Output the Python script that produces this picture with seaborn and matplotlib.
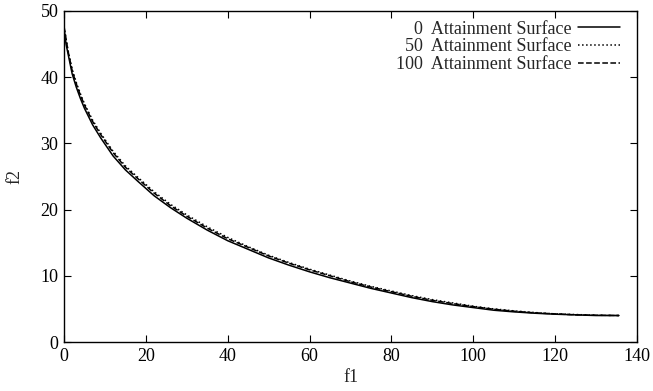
import matplotlib
matplotlib.use('Agg')
import matplotlib.pyplot as plt
import numpy as np
import pandas as pd
import seaborn as sns

# attainment surfaces
f1_0 = [0, 0.5, 1, 2, 3, 4, 5, 7, 9, 12, 15, 18, 22, 26, 30, 35, 40, 45, 50,
        55, 60, 65, 70, 75, 80, 85, 90, 95, 100, 105, 110, 115, 120, 125, 130, 135.6]
f2_0 = [47.5, 45.0, 43.5, 40.5, 38.5, 36.8, 35.3, 32.8, 30.8, 28.1, 26.0, 24.3,
        22.1, 20.3, 18.7, 16.9, 15.3, 14.0, 12.7, 11.6, 10.6, 9.7, 8.9, 8.1, 7.4,
        6.7, 6.1, 5.6, 5.2, 4.8, 4.55, 4.35, 4.2, 4.1, 4.0, 4.0]

f1_50 = [0, 1, 2, 3, 4, 5, 7, 9, 12, 15, 18, 22, 26, 30, 35, 40, 45, 50,
         55, 60, 65, 70, 75, 80, 85, 90, 95, 100, 105, 110, 115, 120, 125, 130, 135.6]
f2_50 = [47.6, 44.0, 41.2, 39.2, 37.5, 36.0, 33.5, 31.5, 28.8, 26.6, 24.9, 22.7,
         20.8, 19.2, 17.4, 15.8, 14.4, 13.1, 12.0, 11.0, 10.1, 9.2, 8.4, 7.7,
         7.0, 6.4, 5.9, 5.4, 5.0, 4.7, 4.45, 4.25, 4.15, 4.05, 4.0]

f1_100 = [0, 1, 2, 3, 4, 5, 7, 9, 12, 15, 18, 22, 26, 30, 35, 40, 45, 50,
          55, 60, 65, 70, 75, 80, 85, 90, 95, 100, 105, 110, 115, 120, 125, 130, 135.6]
f2_100 = [47.7, 43.9, 41.0, 39.0, 37.3, 35.8, 33.3, 31.3, 28.6, 26.4, 24.7, 22.5,
          20.6, 19.0, 17.2, 15.6, 14.3, 13.0, 11.9, 10.9, 10.0, 9.1, 8.3, 7.6,
          6.9, 6.3, 5.8, 5.35, 4.95, 4.65, 4.4, 4.25, 4.1, 4.05, 4.0]

runs = ['0', '50', '100']
styles = ['-', ':', '--']

sns.set_style('ticks')
plt.rcParams['font.family'] = ['Liberation Serif', 'DejaVu Serif']
plt.rcParams['xtick.direction'] = 'in'
plt.rcParams['ytick.direction'] = 'in'

fig = plt.figure(figsize=(6.53, 3.91), dpi=100)
ax = fig.add_axes([0.098, 0.1253, 0.8775, 0.8466])

data = [(f1_0, f2_0), (f1_50, f2_50), (f1_100, f2_100)]
pad = {'0': '\u2007\u2007', '50': '\u2007', '100': ''}
for run, ls, (x, y) in zip(runs, styles, data):
    df = pd.DataFrame({'f1': x, 'f2': y})
    sns.lineplot(data=df, x='f1', y='f2', sort=False, estimator=None, ax=ax,
                 color='black', linewidth=1.1, linestyle=ls,
                 label=pad[run] + run + '  Attainment Surface')

ax.set_xlim(0, 140)
ax.set_ylim(0, 50)
ax.set_xticks(np.arange(0, 141, 20))
ax.set_yticks(np.arange(0, 51, 10))
ax.tick_params(top=True, right=True, length=5, width=0.8, labelsize=13,
               colors='black', pad=4)
for s in ax.spines.values():
    s.set_linewidth(1.0)
    s.set_color('black')
ax.set_xlabel('f1', fontsize=13, labelpad=3)
ax.set_ylabel('f2', fontsize=13, labelpad=12)

# gnuplot-like key: labels right aligned, sample line on the right
leg = ax.legend(loc='upper right', bbox_to_anchor=(0.970, 0.971),
                frameon=False, markerfirst=False, fontsize=13,
                handlelength=2.33, handletextpad=0.33, labelspacing=0.05,
                borderaxespad=0, borderpad=0)

plt.savefig('out.png', dpi=100)
